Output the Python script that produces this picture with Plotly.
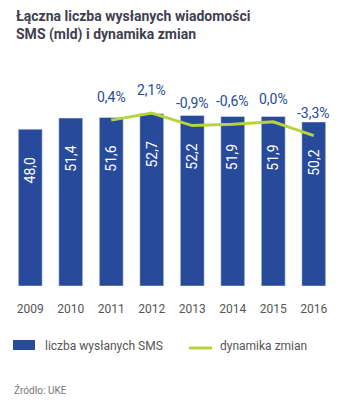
import plotly.graph_objects as go

years = ["2009", "2010", "2011", "2012", "2013", "2014", "2015", "2016"]
sms = [48.0, 51.4, 51.6, 52.7, 52.2, 51.9, 51.9, 50.2]
dyn_years = ["2011", "2012", "2013", "2014", "2015", "2016"]
dyn = [0.4, 2.1, -0.9, -0.6, 0.0, -3.3]

BLUE = "#274a9b"
GREEN = "#b8d43c"
FONT = "Roboto"

W, H = 353, 402
L, R, T, B = 10, 19, 90, 116  # plot area px: x 10..334, y 90..286


def px(xp):
    return (xp - L) / (W - L - R)


def py(yp):
    return (H - B - yp) / (H - T - B)


def pl(v, d=1):
    return f"{v:.{d}f}".replace(".", ",")


fig = go.Figure()
fig.add_trace(go.Bar(x=years, y=sms, marker_color=BLUE, name="liczba wysłanych SMS",
                     showlegend=False, hoverinfo="skip"))
fig.add_trace(go.Scatter(x=dyn_years, y=dyn, yaxis="y2", mode="lines",
                         line=dict(color=GREEN, width=3), name="dynamika zmian",
                         showlegend=False, hoverinfo="skip"))

ann = []
for x, v in zip(years, sms):
    ann.append(dict(x=years.index(x), y=v, xref="x", yref="y", text=pl(v), showarrow=False,
                    textangle=-90, yshift=-41,
                    font=dict(family=FONT, size=14, color="white")))
for x, v in zip(dyn_years, dyn):
    ann.append(dict(x=years.index(x), y=v, xref="x", yref="y2", text=pl(v) + "%", showarrow=False,
                    yshift=23, font=dict(family=FONT, size=14, color=BLUE)))

ann.append(dict(x=px(14), y=py(6), xref="paper", yref="paper",
                text="<b>Łączna liczba wysłanych wiadomości<br>SMS (mld) i dynamika zmian</b>",
                showarrow=False, xanchor="left", yanchor="top", align="left",
                font=dict(family=FONT, size=14, color="#3f3f4f")))
ann.append(dict(x=px(43), y=py(345.5), xref="paper", yref="paper", text="liczba wysłanych SMS",
                showarrow=False, xanchor="left", yanchor="middle",
                font=dict(family=FONT, size=12, color="#555555")))
ann.append(dict(x=px(218), y=py(345.5), xref="paper", yref="paper", text="dynamika zmian",
                showarrow=False, xanchor="left", yanchor="middle",
                font=dict(family=FONT, size=12, color="#555555")))
ann.append(dict(x=px(12), y=py(390), xref="paper", yref="paper", text="Źródło: UKE",
                showarrow=False, xanchor="left", yanchor="middle",
                font=dict(family=FONT, size=10, color="#777777")))

shapes = [
    dict(type="rect", xref="paper", yref="paper", x0=px(13), x1=px(35), y0=py(350), y1=py(340),
         fillcolor=BLUE, line=dict(width=0)),
    dict(type="line", xref="paper", yref="paper", x0=px(189), x1=px(212), y0=py(348), y1=py(348),
         line=dict(color=GREEN, width=3)),
]

fig.update_layout(
    width=W, height=H,
    margin=dict(l=L, r=R, t=T, b=B, pad=0),
    paper_bgcolor="white", plot_bgcolor="white",
    bargap=0.41,
    showlegend=False,
    font=dict(family=FONT, color="#555555"),
    xaxis=dict(type="category", range=[-0.5, 7.5], showgrid=False, showline=False, zeroline=False,
               ticks="", tickfont=dict(family=FONT, size=12, color="#555555"), ticklabelstandoff=14),
    yaxis=dict(range=[0, 60], visible=False, fixedrange=True),
    yaxis2=dict(range=[-39.1, 7.57], overlaying="y", visible=False),
    annotations=ann,
    shapes=shapes,
)

fig.write_html("out.html")
